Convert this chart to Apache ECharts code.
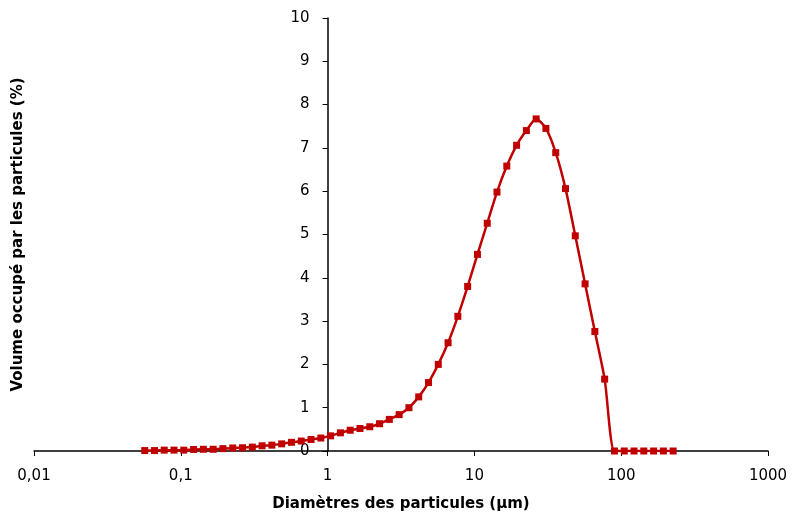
<!DOCTYPE html>
<html>
<head>
<meta charset="utf-8">
<title>Distribution granulométrique</title>
<script src="https://cdn.jsdelivr.net/npm/echarts@6/dist/echarts.min.js"></script>
<style>
  html, body { margin: 0; padding: 0; background: #fff; }
  #chart { width: 793px; height: 517px; }
</style>
</head>
<body>
<div id="chart"></div>
<script>
const diametres = [
  0.0568, 0.0662, 0.0771, 0.0899, 0.1048, 0.1222, 0.1425, 0.1661, 0.1937, 0.2258,
  0.2633, 0.3070, 0.3579, 0.4173, 0.4865, 0.5673, 0.6616, 0.7714, 0.8994, 1.0486,
  1.2226, 1.4254, 1.6619, 1.9377, 2.2592, 2.634, 3.071, 3.581, 4.175, 4.867,
  5.675, 6.616, 7.714, 8.994, 10.49, 12.23, 14.25, 16.62, 19.38, 22.59,
  26.34, 30.71, 35.81, 41.75, 48.67, 56.75, 66.16, 77.14, 89.94, 104.9,
  122.3, 142.5, 166.2, 193.8, 225.9
]
// volume occupé (%)
const volumes = [
  0.01, 0.01, 0.02, 0.02, 0.02, 0.035, 0.04, 0.04, 0.055, 0.07,
  0.075, 0.09, 0.12, 0.135, 0.165, 0.20, 0.23, 0.265, 0.30, 0.35,
  0.42, 0.48, 0.52, 0.56, 0.63, 0.73, 0.84, 1.00, 1.25, 1.58,
  2.00, 2.50, 3.11, 3.80, 4.54, 5.26, 5.98, 6.58, 7.06, 7.40,
  7.67, 7.45, 6.89, 6.06, 4.97, 3.86, 2.76, 1.66, 0, 0,
  0, 0, 0, 0, 0
]
const xTicks = [0.01, 0.1, 1, 10, 100, 1000]

const FONT = 'DejaVu Sans'
const chart = echarts.init(document.getElementById('chart'), null, { renderer: 'canvas' })

const option = {
  backgroundColor: '#fff',
  animation: false,
  grid: { left: 34, right: 25, top: 18, bottom: 64 },
  xAxis: {
    type: 'log',
    logBase: 10,
    min: xTicks[0],
    max: xTicks[xTicks.length - 1],
    name: 'Diamètres des particules (µm)',
    nameLocation: 'middle',
    nameGap: 46,
    nameTextStyle: { fontFamily: FONT, fontSize: 15, fontWeight: 'bold', color: '#000' },
    axisLine: { lineStyle: { color: '#000', width: 1.5 } },
    axisTick: { show: true, length: 5, lineStyle: { color: '#000' } },
    minorTick: { show: false },
    splitLine: { show: false },
    axisLabel: {
      margin: 18,
      fontFamily: FONT, fontSize: 15, color: '#000',
      formatter: v => String(+v.toPrecision(6)).replace('.', ',')
    }
  },
  yAxis: {
    type: 'value',
    min: 0, max: 10, interval: 1,
    position: 'left',
    offset: -293.6, // l'axe croise l'axe des x à 1 µm
    name: 'Volume occupé par les particules (%)',
    nameLocation: 'middle',
    nameGap: 302,
    nameTextStyle: { fontFamily: FONT, fontSize: 15, fontWeight: 'bold', color: '#000' },
    axisLine: { show: true, lineStyle: { color: '#000', width: 1.5 } },
    axisTick: { show: true, length: 5, lineStyle: { color: '#000' } },
    splitLine: { show: false },
    axisLabel: { margin: 18, fontFamily: FONT, fontSize: 15, color: '#000' }
  },
  series: [{
    type: 'line',
    data: diametres.map((d, i) => [d, volumes[i]]),
    smooth: 0.25,
    symbol: 'rect',
    symbolSize: 7,
    showAllSymbol: true,
    lineStyle: { color: '#C00000', width: 2.5 },
    itemStyle: { color: '#C00000' },
    z: 3
  }]
}
chart.setOption(option)
</script>
</body>
</html>
